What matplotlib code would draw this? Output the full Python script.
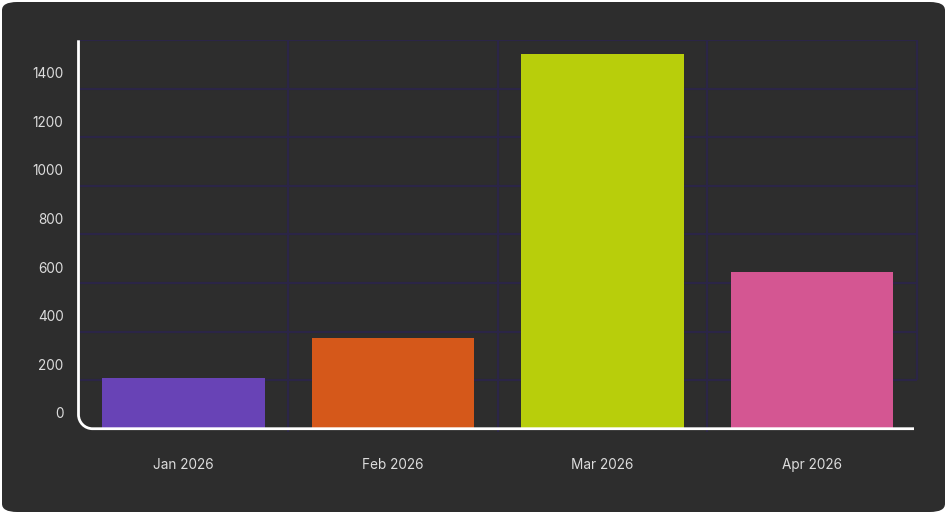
import numpy as np
import matplotlib.pyplot as plt
from matplotlib.patches import FancyBboxPatch
from matplotlib.path import Path
from matplotlib.patches import PathPatch
from matplotlib.transforms import blended_transform_factory, offset_copy

plt.rcParams['font.family'] = ['Inter', 'DejaVu Sans']

# data
months = ["Jan 2026", "Feb 2026", "Mar 2026", "Apr 2026"]
values = [208, 374, 1542, 645]
colors = ["#6843b6", "#d5581a", "#b8ce0b", "#d45692"]
ytick_vals = [0, 200, 400, 600, 800, 1000, 1200, 1400]

bg = "#2d2d2d"
grid_c = "#2b2547"
text_c = "#dcdcdc"

fig = plt.figure(figsize=(9.47, 5.14), dpi=100, facecolor="white")

# rounded card behind the chart
card = FancyBboxPatch((2 / 947, 2 / 514), 943 / 947, 510 / 514,
                      boxstyle="round,pad=0,rounding_size=0.016",
                      transform=fig.transFigure, facecolor=bg,
                      edgecolor="none", zorder=-5)
fig.patches.append(card)

ax = fig.add_axes([78.5 / 947, (514 - 428.7) / 514, 838.5 / 947, 388.4 / 514])
ax.set_facecolor("none")

x = np.arange(len(months))
ax.bar(x, values, width=0.775, color=colors, zorder=3)

ax.set_xlim(-0.5, len(months) - 0.5)
ax.set_ylim(0, 1600)

# grid
for yv in range(200, 1601, 200):
    ax.axhline(yv, color=grid_c, lw=1.5, zorder=1)
for xv in [0.5, 1.5, 2.5]:
    ax.vlines(xv, -12, 1600, color=grid_c, lw=1.5, zorder=4, clip_on=False)
ax.vlines(3.5, 200, 1600, color=grid_c, lw=1.5, zorder=1, clip_on=False)

for s in ax.spines.values():
    s.set_visible(False)

ax.set_xticks(x)
ax.set_xticklabels(months, color=text_c, fontsize=9.8)
ax.tick_params(axis="x", length=0, pad=21)
ax.set_yticks([])

# y labels sit a little above their lines
tr = blended_transform_factory(ax.transAxes, ax.transData)
tr = offset_copy(tr, fig=fig, x=-15, y=14.5, units="dots")
for yv in ytick_vals:
    ax.text(0, yv, str(yv), transform=tr, ha="right", va="center",
            color=text_c, fontsize=9.8)

# axis lines with a rounded bottom-left corner
fig.canvas.draw()
x0, y0 = ax.transAxes.transform((0, 0))
x1, y1 = ax.transAxes.transform((1, 1))
r = 14
k = 0.5523 * r
verts = [(x0, y1), (x0, y0 + r),
         (x0, y0 + r - k), (x0 + r - k, y0), (x0 + r, y0),
         (x1 - 3, y0)]
codes = [Path.MOVETO, Path.LINETO, Path.CURVE4, Path.CURVE4, Path.CURVE4,
         Path.LINETO]
axis_line = PathPatch(Path(verts, codes), transform=None, fill=False,
                      edgecolor="white", lw=2, zorder=5)
fig.patches.append(axis_line)

fig.savefig("out.png", dpi=100, facecolor="white")
